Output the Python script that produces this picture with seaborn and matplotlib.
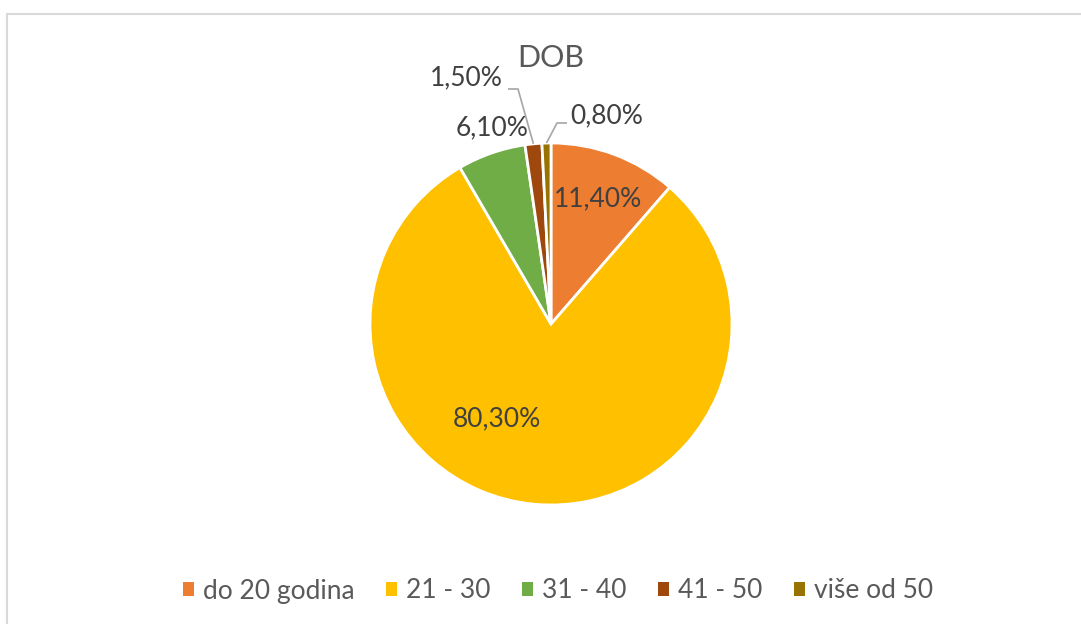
import matplotlib
matplotlib.use("Agg")
import matplotlib.pyplot as plt
from matplotlib.patches import Patch
import numpy as np
import seaborn as sns

# Data
categories = ["do 20 godina", "21 - 30", "31 - 40", "41 - 50", "više od 50"]
shares = [11.4, 80.3, 6.1, 1.5, 0.8]
value_labels = ["11,40%", "80,30%", "6,10%", "1,50%", "0,80%"]
colors = ["#ED7D31", "#FFC000", "#70AD47", "#9E480E", "#997300"]

W, H = 1081, 624
CX, CY, R = 551, 324, 181  # pie centre / radius in pixels (from top-left)
# label centres in pixels (from top-left), Excel-like placement
label_pos = [(598, 199), (497, 419), (492, 128), (466, 78), (607, 116)]
# leader lines: (text-side x, text-side y, elbow x) for the tiny slices
leaders = {3: (508, 89, 518), 4: (567, 123, 557)}

TEXT = "#595959"

sns.set_theme(style="white")
plt.rcParams["font.family"] = ["Lato", "DejaVu Sans"]


def fy(y):
    # convert top-down pixel y to axis coordinate
    return H - y


fig = plt.figure(figsize=(W / 100, H / 100), dpi=100)
ax = fig.add_axes([0, 0, 1, 1])

wedges, _ = ax.pie(
    shares,
    colors=colors,
    startangle=90,
    counterclock=False,
    center=(CX, fy(CY)),
    radius=R,
    wedgeprops=dict(edgecolor="white", linewidth=2),
    frame=True,
)
ax.set_xlim(0, W)
ax.set_ylim(0, H)
ax.set_aspect("equal")
ax.axis("off")

for txt, (lx, ly) in zip(value_labels, label_pos):
    ax.text(lx, fy(ly), txt, ha="center", va="center", fontsize=19, color="#404040")

# leader lines from label to the middle of the slice rim
for i, (tx, ty, ex) in leaders.items():
    w = wedges[i]
    mid = np.deg2rad((w.theta1 + w.theta2) / 2)
    rx = CX + R * np.cos(mid)
    ry = fy(CY) + R * np.sin(mid)
    ax.plot([tx, ex, rx], [fy(ty), fy(ty), ry], color="#A6A6A6", lw=1.2,
            solid_capstyle="butt")

ax.text(CX, fy(58), "DOB", ha="center", va="center", fontsize=22, color=TEXT)

handles = [Patch(facecolor=c, edgecolor="none") for c in colors]
fig.legend(
    handles, categories,
    loc="center", bbox_to_anchor=(558 / W, 1 - 591 / H),
    ncol=5, frameon=False, fontsize=19, labelcolor=TEXT,
    handlelength=0.4, handleheight=0.4, handletextpad=0.35,
    columnspacing=1.2,
)

# chart border (only top and left edges visible in the crop)
fig.add_artist(plt.Line2D([7 / W, 1], [1 - 14 / H, 1 - 14 / H], color="#D9D9D9", lw=1.5))
fig.add_artist(plt.Line2D([7 / W, 7 / W], [0, 1 - 14 / H], color="#D9D9D9", lw=1.5))

fig.savefig("out.png", dpi=100, facecolor="white")
